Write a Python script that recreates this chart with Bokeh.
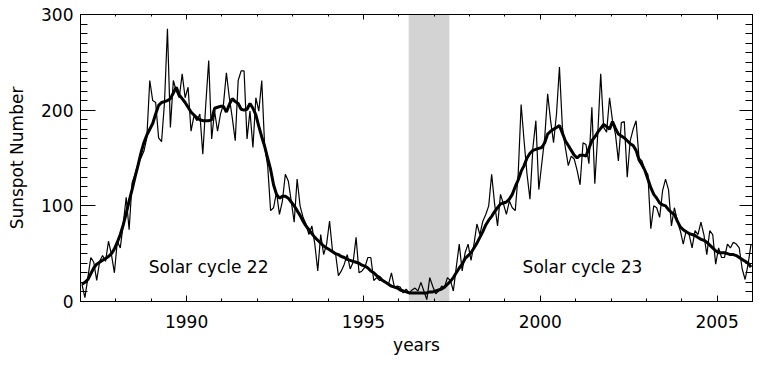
from bokeh.plotting import figure
from bokeh.models import (LinearAxis, SingleIntervalTicker, BoxAnnotation, ColumnDataSource,
                          CustomLabelingPolicy)
from bokeh.embed import file_html
from bokeh.resources import INLINE
from bokeh.core.properties import value

# ---------------- data ----------------
start_year = 1987  # monthly values, Jan 1987 .. Dec 2005

monthly = [
    18, 4, 25, 46, 41, 22, 42, 48, 42, 63, 49, 30,            # 1987
    63, 56, 81, 109, 75, 124, 133, 144, 150, 157, 171, 231,   # 1988
    210, 208, 171, 167, 208, 285, 182, 231, 220, 213, 238, 213,  # 1989
    224, 178, 194, 189, 196, 154, 206, 252, 170, 199, 178, 196,  # 1990
    206, 239, 213, 192, 168, 231, 241, 241, 170, 199, 161, 213,  # 1991
    199, 231, 161, 142, 95, 98, 114, 91, 105, 133, 126, 105,     # 1992
    83, 128, 100, 88, 81, 70, 79, 60, 32, 70, 49, 60,            # 1993
    84, 53, 51, 27, 32, 39, 49, 34, 41, 67, 30, 32,              # 1994
    36, 46, 46, 22, 25, 22, 22, 20, 18, 30, 15, 16,              # 1995
    15, 9, 13, 9, 12, 14, 11, 20, 11, 2, 25, 16,                 # 1996
    8, 11, 16, 15, 25, 22, 11, 36, 60, 32, 51, 60,               # 1997
    43, 60, 81, 70, 84, 91, 100, 133, 102, 79, 112, 102,         # 1998
    91, 105, 98, 95, 133, 206, 168, 133, 107, 161, 189, 117,     # 1999
    144, 171, 217, 189, 166, 196, 245, 182, 161, 142, 152, 149,  # 2000
    137, 122, 166, 164, 144, 203, 123, 175, 238, 182, 177, 213,  # 2001
    189, 175, 147, 187, 188, 130, 168, 180, 189, 150, 147, 137,  # 2002
    133, 76, 100, 98, 88, 116, 128, 117, 79, 98, 84, 74,         # 2003
    60, 74, 70, 56, 74, 70, 83, 70, 49, 74, 70, 39,              # 2004
    56, 46, 46, 60, 56, 62, 60, 56, 34, 23, 39, 60,              # 2005
]

smoothed = [
    18, 20, 23, 29, 35, 39, 41, 43, 45, 47, 50, 55,
    62, 70, 80, 92, 105, 117, 130, 142, 155, 166, 174, 180,
    186, 196, 205, 208, 209, 210, 212, 218, 224, 216, 212, 208,
    203, 198, 195, 192, 190, 189, 189, 189, 190, 202, 203, 204,
    204, 198, 206, 212, 209, 207, 201, 200, 201, 207, 202, 195,
    183, 172, 162, 150, 138, 122, 112, 108, 110, 110, 108, 104,
    100, 95, 90, 84, 79, 75, 71, 67, 64, 61, 58, 56,
    54, 52, 50, 49, 47, 46, 44, 43, 42, 41, 40, 38,
    37, 35, 32, 30, 27, 25, 22, 20, 18, 16, 15, 14,
    12, 11, 10, 9, 9, 9, 9, 9, 9, 9, 10, 10,
    11, 12, 13, 15, 18, 21, 25, 30, 35, 39, 45, 48,
    51, 56, 61, 67, 73, 80, 85, 89, 94, 98, 102, 103,
    104, 107, 112, 120, 127, 136, 142, 150, 155, 158, 159, 160,
    161, 166, 175, 178, 180, 182, 184, 176, 168, 163, 158, 153,
    150, 153, 153, 152, 160, 168, 172, 177, 181, 185, 183, 180,
    188, 181, 175, 173, 171, 168, 165, 163, 158, 148, 143, 137,
    128, 119, 112, 108, 103, 101, 100, 96, 93, 91, 84, 78,
    75, 73, 71, 70, 69, 67, 65, 64, 62, 59, 56, 53,
    51, 51, 51, 50, 49, 49, 48, 46, 44, 42, 40, 36,
]

years = [start_year + (k + 0.5) / 12 for k in range(len(monthly))]

x_ticks_major = 5
y_ticks_major = 100

band_start, band_end = 1996.28, 1997.43
cycle_labels = ["Solar cycle 22", "Solar cycle 23"]
cycle_label_x = [1988.93, 1999.5]
cycle_label_y = [36, 36]

# ---------------- figure ----------------
FONT = "DejaVu Sans"
FS = "17px"

p = figure(width=770, height=360, x_range=(1987, 2006), y_range=(0, 300),
           output_backend="svg", toolbar_location=None,
           min_border_left=80, min_border_right=18, min_border_top=14, min_border_bottom=59)
p.grid.visible = False
p.outline_line_color = "black"
p.outline_line_width = 1
p.background_fill_color = "white"
p.border_fill_color = "white"

p.add_layout(BoxAnnotation(left=band_start, right=band_end, fill_color="#d3d3d3",
                           fill_alpha=1.0, line_color=None, level="underlay"))

src = ColumnDataSource(dict(x=years, y=monthly, s=smoothed))
p.line("x", "y", source=src, line_color="black", line_width=1.2)
p.line("x", "s", source=src, line_color="black", line_width=3.0)

p.text(x=cycle_label_x, y=cycle_label_y, text=cycle_labels,
       text_font=value(FONT), text_font_size=FS, text_color="black",
       text_baseline="middle", text_align="left")


def style(ax, maj_in, min_in, labels=True):
    ax.axis_line_color = "black"
    ax.axis_line_width = 1
    ax.major_tick_line_color = "black"
    ax.minor_tick_line_color = "black"
    ax.major_tick_in = maj_in
    ax.major_tick_out = 0
    ax.minor_tick_in = min_in
    ax.minor_tick_out = 0
    ax.major_label_text_font = FONT
    ax.major_label_text_color = "black"
    ax.axis_label_text_font = FONT
    ax.axis_label_text_font_size = FS
    ax.axis_label_text_font_style = "normal"
    ax.axis_label_text_color = "black"
    if labels:
        ax.major_label_text_font_size = FS
    else:
        ax.major_label_text_font_size = "0px"
        ax.major_label_standoff = 0
        ax.major_label_policy = CustomLabelingPolicy(code="return []")


p.xaxis.ticker = SingleIntervalTicker(interval=x_ticks_major, num_minor_ticks=5)
p.yaxis.ticker = SingleIntervalTicker(interval=y_ticks_major, num_minor_ticks=10)
style(p.xaxis[0], 6, 3)
style(p.yaxis[0], 15, 7)
p.xaxis.axis_label = "years"
p.yaxis.axis_label = "Sunspot Number"
p.xaxis.major_label_standoff = 13
p.xaxis.axis_label_standoff = 4
p.yaxis.major_label_standoff = 7
p.yaxis.axis_label_standoff = 11

top = LinearAxis(ticker=SingleIntervalTicker(interval=x_ticks_major, num_minor_ticks=5))
style(top, 5, 2, labels=False)
p.add_layout(top, "above")

right = LinearAxis(ticker=SingleIntervalTicker(interval=y_ticks_major, num_minor_ticks=10))
style(right, 13, 7, labels=False)
p.add_layout(right, "right")

open("out.html", "w").write(file_html(p, INLINE))
